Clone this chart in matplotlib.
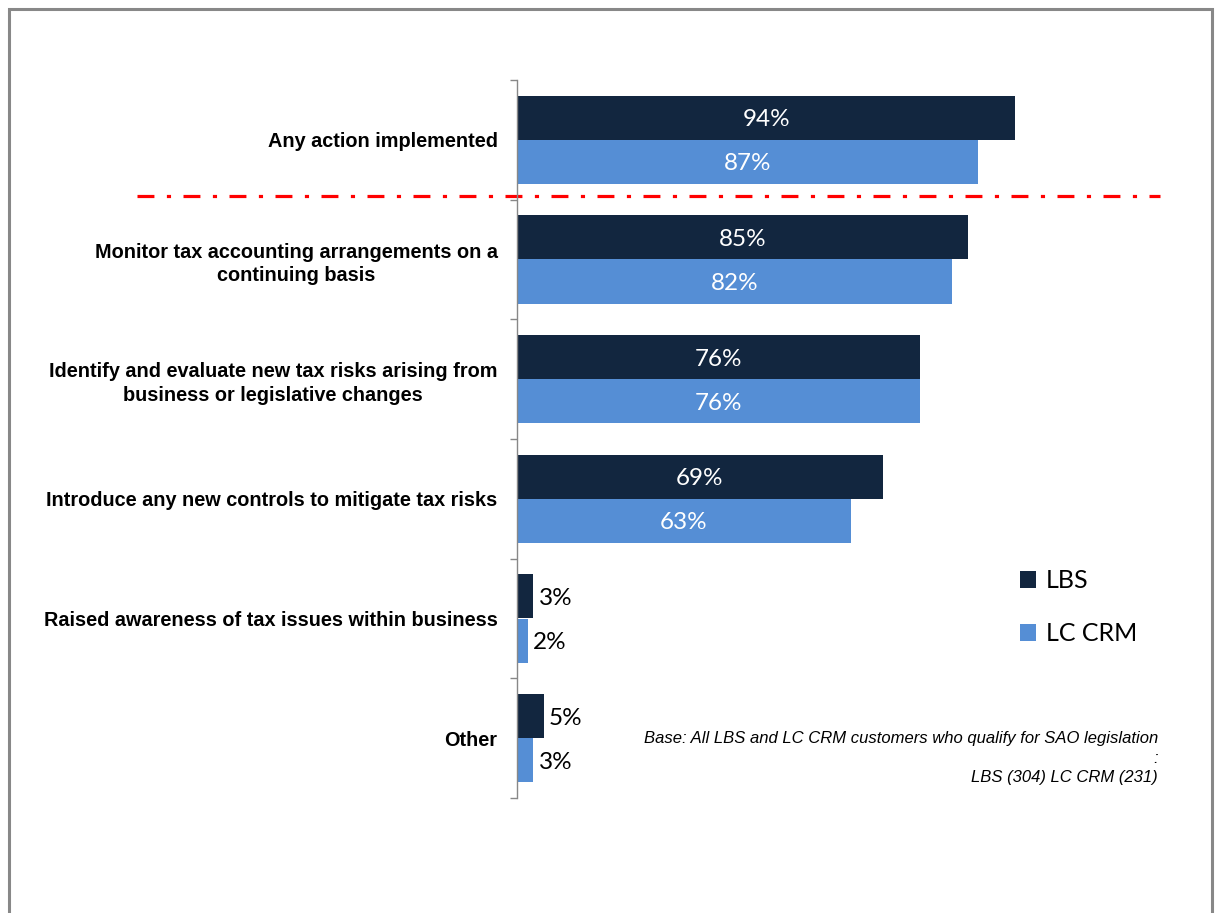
import matplotlib
matplotlib.use("Agg")
import matplotlib.pyplot as plt
import matplotlib.patches as patches
import matplotlib.transforms as mtransforms
import numpy as np

# data
categories = [
    "Any action implemented",
    "Monitor tax accounting arrangements on a\ncontinuing basis",
    "Identify and evaluate new tax risks arising from\nbusiness or legislative changes",
    "Introduce any new controls to mitigate tax risks",
    "Raised awareness of tax issues within business",
    "Other",
]
lbs = [94, 85, 76, 69, 3, 5]
lc_crm = [87, 82, 76, 63, 2, 3]
series_names = ["LBS", "LC CRM"]
base_note = "Base: All LBS and LC CRM customers who qualify for SAO legislation\n:\nLBS (304) LC CRM (231)"

dark = "#12263f"
light = "#558ed5"

fig = plt.figure(figsize=(12.18, 9.13), dpi=100)
ax = fig.add_axes([517 / 1218, 1 - 798 / 913, 643 / 1218, 718 / 913])

y = np.arange(len(categories))
h = 0.368
b1 = ax.barh(y - h / 2, lbs, height=h, color=dark, label=series_names[0])
b2 = ax.barh(y + h / 2, lc_crm, height=h, color=light, label=series_names[1])

ax.set_xlim(0, 643 / 5.30)
ax.set_ylim(len(categories) - 0.5, -0.5)

# value labels: inside (white) for long bars, outside (black) for short ones
for bars, vals in [(b1, lbs), (b2, lc_crm)]:
    for bar, v in zip(bars, vals):
        cy = bar.get_y() + bar.get_height() / 2
        if v > 20:
            ax.text(v / 2, cy, f"{v}%", ha="center", va="center_baseline",
                    color="white", fontsize=17.5, family="Lato")
        else:
            ax.annotate(f"{v}%", (v, cy), xytext=(4, 0), textcoords="offset points",
                        ha="left", va="center_baseline", color="black",
                        fontsize=17.5, family="Lato")

# axes styling
for s in ["top", "right", "bottom"]:
    ax.spines[s].set_visible(False)
ax.spines["left"].set_color("#888888")
ax.spines["left"].set_linewidth(1)
ax.set_xticks([])
ax.set_yticks(y)
ax.set_yticklabels(categories, fontsize=14.3, fontweight="bold", family="Liberation Sans")
for t in ax.get_yticklabels():
    t.set_multialignment("center")
    t.set_linespacing(1.3)
ax.tick_params(axis="y", which="major", length=0, pad=14)
ax.set_yticks(np.arange(-0.5, len(categories)), minor=True)
ax.tick_params(axis="y", which="minor", length=5, color="#888888", width=1)

# red dash-dot separator under the first group
trans = mtransforms.blended_transform_factory(ax.transAxes, ax.transData)
ax.plot([(137 - 517) / 643, 1.0], [0.469, 0.469], transform=trans, clip_on=False,
        color="#ff0000", lw=2.3, linestyle=(0, (5.3, 3.9, 1.3, 3.9)))

# legend
ax.legend(handles=[b1, b2], loc="upper left",
          bbox_to_anchor=(1020 / 1218, 1 - 569 / 913), bbox_transform=fig.transFigure,
          frameon=False, prop={"family": "Lato", "size": 18},
          handlelength=0.65, handleheight=0.65, handletextpad=0.4,
          labelspacing=1.2, borderpad=0, borderaxespad=0)

fig.text(1158 / 1218, 1 - 758 / 913, base_note, ha="right", va="center",
         ma="right", fontsize=12, style="italic", family="Liberation Sans",
         linespacing=1.35, transform=fig.transFigure)

# outer gray frame
fig.patches.append(patches.Rectangle((9 / 1218, -0.05), (1212 - 9) / 1218, 1.05 - 9 / 913,
                                     transform=fig.transFigure, fill=False,
                                     edgecolor="#888888", linewidth=2.2))

plt.savefig("out.png", dpi=100)
plt.close()
